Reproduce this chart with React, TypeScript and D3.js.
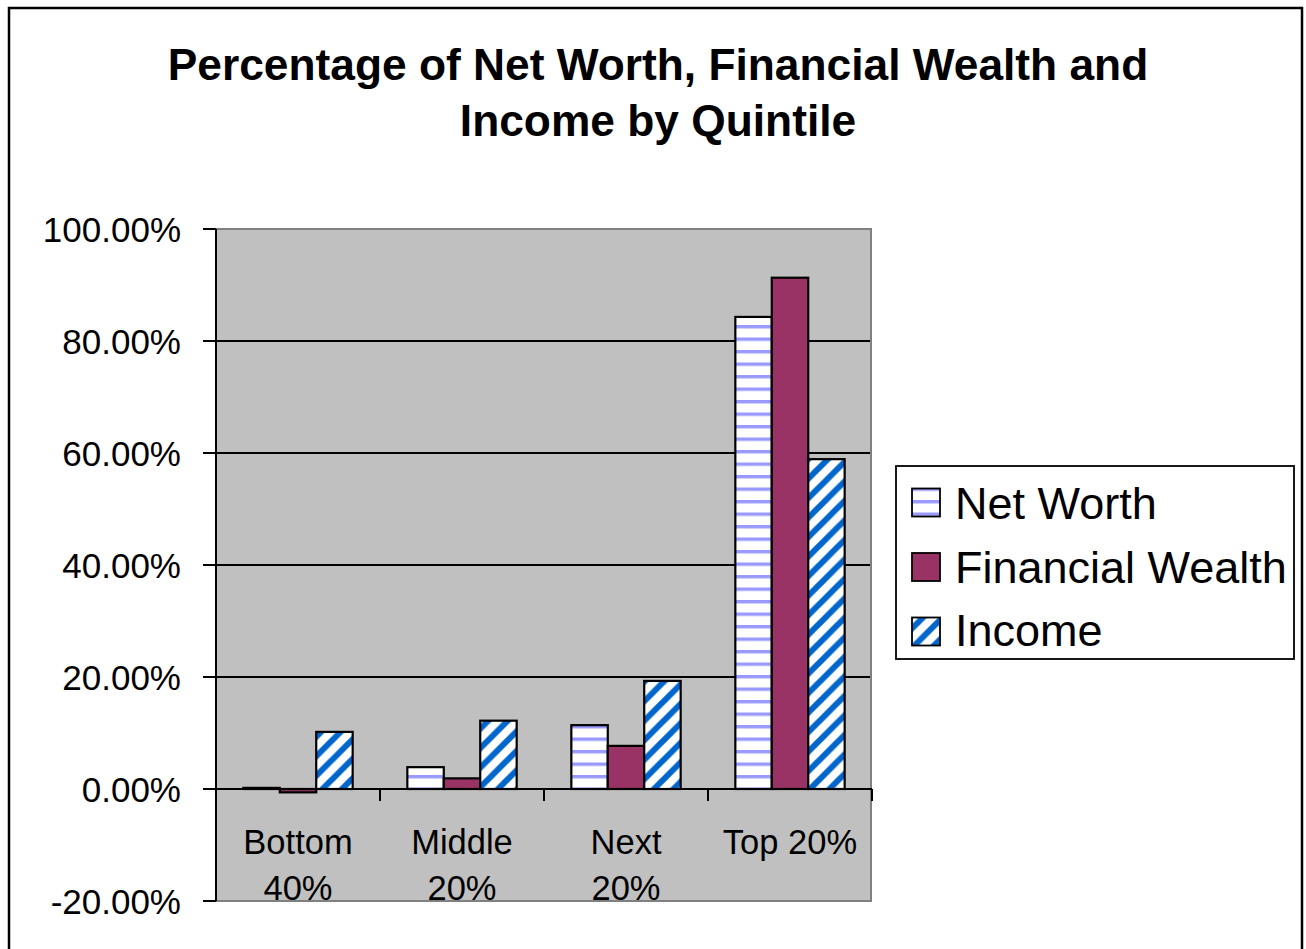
import React from "react";
import * as d3 from "d3";

const titleLines = ["Percentage of Net Worth, Financial Wealth and", "Income by Quintile"];
const categories = ["Bottom 40%", "Middle 20%", "Next 20%", "Top 20%"];
const categoryLines = [["Bottom", "40%"], ["Middle", "20%"], ["Next", "20%"], ["Top 20%"]];
const seriesNames = ["Net Worth", "Financial Wealth", "Income"];
const netWorth = [0.2, 3.9, 11.4, 84.3];
const financialWealth = [-0.6, 1.9, 7.7, 91.3];
const income = [10.2, 12.2, 19.3, 58.9];
const yTicks = [-20, 0, 20, 40, 60, 80, 100];

const seriesValues = [netWorth, financialWealth, income];
const seriesFills = ["url(#patNW)", "#993366", "url(#patInc)"];

const W = 1306;
const H = 949;
const PL = 216;
const PR = 872;
const PT = 229;
const PB = 901;
const FONT = "'Liberation Sans', Arial, Helvetica, sans-serif";

const fmtPct = (t: number) => d3.format(".2f")(t).replace("\u2212", "-") + "%";

export default function App() {
  const x = d3.scaleBand<string>().domain(categories).range([PL, PR]).paddingInner(1 / 3).paddingOuter(1 / 6);
  const xs = d3.scaleBand<string>().domain(seriesNames).range([0, x.bandwidth()]).padding(0);
  const y = d3.scaleLinear().domain([-20, 100]).range([PB, PT]);
  const y0 = y(0);
  const step = x.step();
  const boundaries = d3.range(categories.length + 1).map((i) => PL + i * step);

  return (
    <svg width={W} height={H} style={{ position: "absolute", left: 0, top: 0 }} fontFamily={FONT}>
      <defs>
        <pattern id="patNW" patternUnits="userSpaceOnUse" width={12.5} height={12.5}>
          <rect width={12.5} height={12.5} fill="#ffffff" />
          <rect y={0} width={12.5} height={3.4} fill="#9999FF" />
        </pattern>
        <pattern id="patInc" patternUnits="userSpaceOnUse" width={19.5} height={19.5}>
          <rect width={19.5} height={19.5} fill="#ffffff" />
          <path
            d={`M0,19.5 L19.5,0 M-4.875,4.875 L4.875,-4.875 M14.625,24.375 L24.375,14.625`}
            stroke="#0066CC"
            strokeWidth={6}
          />
        </pattern>
      </defs>
      <rect x={0} y={0} width={W} height={H} fill="#ffffff" />
      <rect x={9} y={8} width={1293} height={960} fill="#ffffff" stroke="#000" strokeWidth={2.5} />

      {titleLines.map((t, i) => (
        <text key={t} x={658} y={80 + i * 56} textAnchor="middle" fontSize={44.3} fontWeight="bold" fill="#000">
          {t}
        </text>
      ))}

      <rect x={PL} y={PT} width={PR - 1 - PL} height={PB - PT} fill="#C0C0C0" />

      {yTicks
        .filter((t) => t > 0 && t < 100)
        .map((t) => (
          <line key={t} x1={PL} x2={PR - 1} y1={y(t)} y2={y(t)} stroke="#000" strokeWidth={2} />
        ))}

      {categories.map((c, ci) =>
        seriesNames.map((s, si) => {
          const v = seriesValues[si][ci];
          const bx = (x(c) as number) + (xs(s) as number);
          const top = Math.min(y(v), y0);
          const h = Math.abs(y(v) - y0);
          return (
            <rect
              key={c + s}
              x={bx}
              y={top}
              width={xs.bandwidth()}
              height={h}
              fill={seriesFills[si]}
              stroke="#000"
              strokeWidth={2.2}
            />
          );
        })
      )}

      {categories.map((c, ci) => {
        const cx = (x(c) as number) + x.bandwidth() / 2;
        return (
          <text key={c} textAnchor="middle" fontSize={34.5} fill="#000">
            {categoryLines[ci].map((ln, li) => (
              <tspan key={ln} x={cx} y={854 + li * 46}>
                {ln}
              </tspan>
            ))}
          </text>
        );
      })}

      <path d={`M${PL},${PT} H${PR - 1} V${PB} H${PL}`} fill="none" stroke="#808080" strokeWidth={2} />

      <line x1={PL} x2={PL} y1={PT} y2={PB} stroke="#000" strokeWidth={2} />
      {yTicks.map((t) => (
        <g key={t}>
          <line x1={PL - 13} x2={PL} y1={y(t)} y2={y(t)} stroke="#000" strokeWidth={2} />
          <text x={181} y={y(t) + 12.5} textAnchor="end" fontSize={35} fill="#000">
            {fmtPct(t)}
          </text>
        </g>
      ))}
      <line x1={PL} x2={PR} y1={y0} y2={y0} stroke="#000" strokeWidth={2.2} />
      {boundaries.slice(1).map((bx) => (
        <line key={bx} x1={bx} x2={bx} y1={y0} y2={y0 + 12} stroke="#000" strokeWidth={2} />
      ))}

      <rect x={896} y={466} width={398} height={193} fill="#ffffff" stroke="#000" strokeWidth={1.8} />
      {seriesNames.map((s, si) => (
        <g key={s}>
          <rect
            x={912}
            y={488.5 + si * 64.5}
            width={28}
            height={28}
            fill={seriesFills[si]}
            stroke="#000"
            strokeWidth={1.8}
          />
          <text x={955} y={519 + si * 63.5} fontSize={45} fill="#000">
            {s}
          </text>
        </g>
      ))}
    </svg>
  );
}
